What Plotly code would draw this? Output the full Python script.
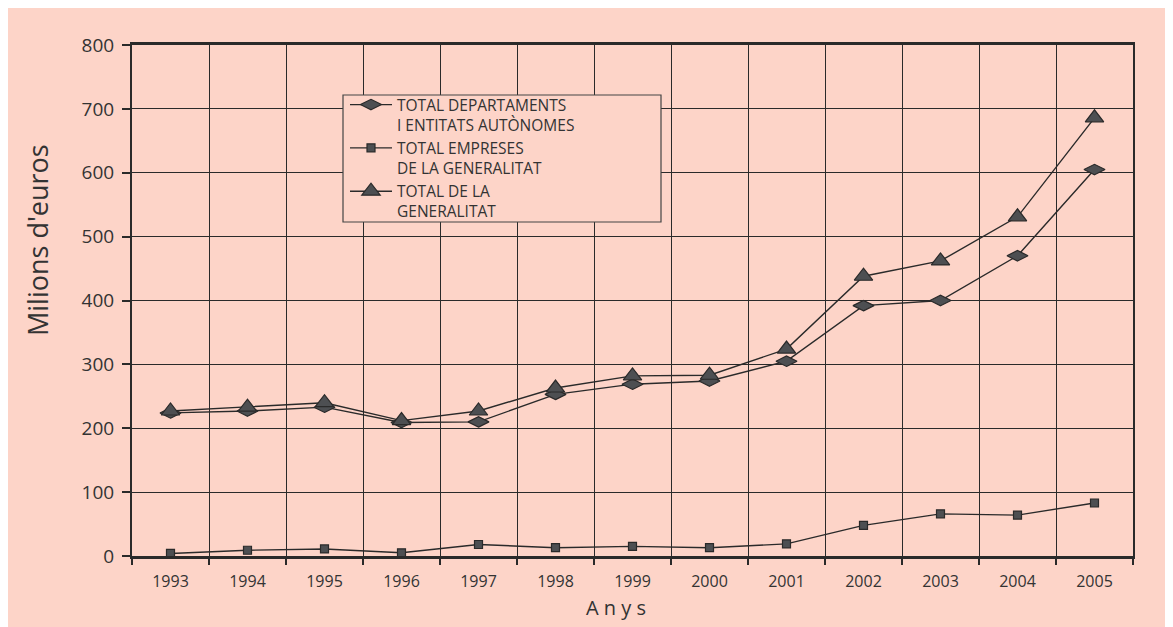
import plotly.graph_objects as go

years = [1993, 1994, 1995, 1996, 1997, 1998, 1999, 2000, 2001, 2002, 2003, 2004, 2005]
departaments = [224, 227, 233, 209, 210, 253, 269, 274, 305, 392, 400, 470, 605]
empreses = [4, 9, 11, 5, 18, 13, 15, 13, 19, 48, 66, 64, 83]
total_generalitat = [227, 233, 240, 212, 227, 263, 282, 283, 324, 438, 462, 531, 686]

names = ["TOTAL DEPARTAMENTS<br>I ENTITATS AUTÒNOMES",
         "TOTAL EMPRESES<br>DE LA GENERALITAT",
         "TOTAL DE LA<br>GENERALITAT"]

PINK = "#FDD4C8"
DARK = "#2a2a2a"
FILL = "#4d4f52"
FONT = "Open Sans"

OFF = 8  # page margin of the browser
W, H = 1173, 627
L, T = 132 - OFF, 45 - OFF
R = W - (1133 - OFF)
B = H - (556 - OFF)
pw, ph = W - L - R, H - T - B

def px_x(x):
    return (x - OFF - L) / pw

def px_y(y):
    return (H - B - (y - OFF)) / ph

fig = go.Figure()
series = [(departaments, "diamond-wide", 15), (empreses, "square", 8), (total_generalitat, "triangle-up", 16)]
for (vals, sym, size), nm in zip(series, names):
    fig.add_trace(go.Scatter(
        x=years, y=vals, name=nm, mode="lines+markers",
        line=dict(color=DARK, width=1.4),
        marker=dict(symbol=sym, size=size, color=FILL, line=dict(color=DARK, width=1.2)),
    ))

fig.update_layout(
    width=W, height=H,
    margin=dict(l=L, r=R, t=T, b=B),
    paper_bgcolor=PINK, plot_bgcolor=PINK,
    font=dict(family=FONT, color="#333333"),
    showlegend=True,
    legend=dict(
        x=px_x(345), y=px_y(88), xanchor="left", yanchor="top",
        bgcolor="rgba(0,0,0,0)", borderwidth=0,
        font=dict(size=15.5, color="#333333", family=FONT),
        valign="top", tracegroupgap=0, itemwidth=42,
    ),
    xaxis=dict(
        range=[1992.5, 2005.5],
        tickmode="array", tickvals=years, ticktext=[str(y) for y in years],
        ticks="", showgrid=False, zeroline=False,
        tickfont=dict(size=16, color="#333333"),
        showline=True, linecolor=DARK, linewidth=2.5, mirror=True,
        ticklabelstandoff=9,
        minor=dict(tick0=1992.5, dtick=1, ticks="outside", ticklen=6, tickcolor=DARK,
                   tickwidth=1.5, showgrid=True, gridcolor=DARK, gridwidth=1.4),
    ),
    yaxis=dict(
        range=[0, 800], dtick=100, tick0=0,
        ticks="outside", ticklen=8, tickcolor=DARK, tickwidth=1.5,
        showgrid=True, gridcolor=DARK, gridwidth=1.4, zeroline=False,
        tickfont=dict(size=19, color="#333333"),
        showline=True, linecolor=DARK, linewidth=2, mirror=True,
        ticklabelstandoff=4,
    ),
    shapes=[
        dict(type="rect", xref="paper", yref="paper",
             x0=px_x(343), x1=px_x(661), y0=px_y(222), y1=px_y(95),
             fillcolor=PINK, line=dict(color="#444444", width=1.2), layer="above"),
    ],
    annotations=[
        dict(text="A n y s", xref="paper", yref="paper", x=px_x(616), y=px_y(607),
             xanchor="center", yanchor="middle", showarrow=False,
             font=dict(size=20, color="#333333", family=FONT)),
        dict(text="Milions d'euros", xref="paper", yref="paper", x=px_x(37), y=px_y(240),
             xanchor="center", yanchor="middle", showarrow=False, textangle=-90,
             font=dict(size=27, color="#333333", family=FONT)),
    ],
)

fig.write_html("out.html")
